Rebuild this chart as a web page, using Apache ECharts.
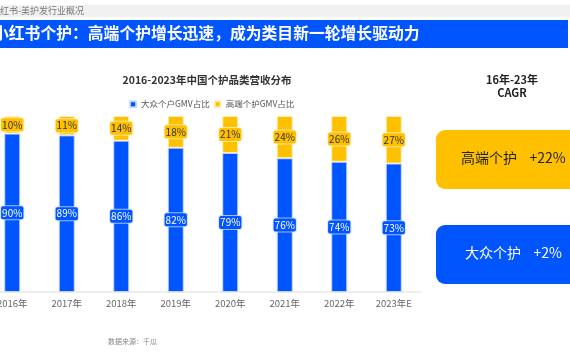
<!DOCTYPE html>
<html>
<head>
<meta charset="utf-8">
<style>
html,body{margin:0;padding:0;background:#fff;overflow:hidden;}
#wrap{width:570px;height:360px;overflow:hidden;position:relative;}
#chart{width:585px;height:360px;position:absolute;left:-15px;top:0;}
</style>
<script src="https://cdn.jsdelivr.net/npm/echarts@6/dist/echarts.min.js"></script>
</head>
<body>
<div id="wrap"><div id="chart"></div></div>
<script>
var categories = ['2016年','2017年','2018年','2019年','2020年','2021年','2022年','2023年E'];
var massShare = [90, 89, 86, 82, 79, 76, 74, 73];
var premiumShare = [10, 11, 14, 18, 21, 24, 26, 27];
var seriesNames = ['大众个户GMV占比', '高端个护GMV占比'];
var cagrLabels = ['高端个护    +22%', '大众个护    +2%'];

var BLUE = '#0055FF';
var YELLOW = '#FFC000';
var FONT = '"Noto Sans CJK SC", "Noto Sans", sans-serif';
var OX = 15; // horizontal offset of the canvas (it starts 15px left of the page)

var chart = echarts.init(document.getElementById('chart'), null, {renderer: 'canvas'});

function lbl(color, bg, border) {
  return {
    show: true,
    position: 'inside',
    formatter: '{c}%',
    color: color,
    fontSize: 10,
    fontFamily: FONT,
    backgroundColor: bg,
    borderColor: border,
    borderWidth: 1,
    borderRadius: 2,
    padding: [2, 1, 1, 1]
  };
}

var option = {
  animation: false,
  textStyle: {fontFamily: FONT},
  title: {
    text: '2016-2023年中国个护品类营收分布',
    left: 202 + OX,
    textAlign: 'center',
    top: 70,
    textStyle: {fontSize: 10.5, fontWeight: 'bold', color: '#333', fontFamily: FONT}
  },
  legend: {
    data: seriesNames,
    left: 124 + OX,
    top: 95,
    itemWidth: 6,
    itemHeight: 6,
    itemGap: 4,
    icon: 'rect',
    textStyle: {fontSize: 8.5, color: '#555', fontFamily: FONT}
  },
  grid: {left: 0, right: 149, top: 116, bottom: 68, containLabel: false},
  xAxis: {
    type: 'category',
    data: categories,
    axisLine: {show: true, lineStyle: {color: '#eeeeee', width: 2}},
    axisTick: {show: false},
    axisLabel: {color: '#666', fontSize: 9.5, fontFamily: FONT, margin: 7}
  },
  yAxis: {
    type: 'value',
    min: 0,
    max: 100,
    show: false,
    splitLine: {show: false}
  },
  series: [
    {
      name: seriesNames[0],
      type: 'bar',
      stack: 'total',
      barWidth: 16,
      data: massShare,
      itemStyle: {color: BLUE, borderColor: 'rgba(200,215,255,0.9)', borderWidth: 1},
      label: lbl('#ffffff', BLUE, 'rgba(200,215,255,0.8)')
    },
    {
      name: seriesNames[1],
      type: 'bar',
      stack: 'total',
      barWidth: 16,
      data: premiumShare,
      itemStyle: {color: YELLOW, borderColor: 'rgba(255,240,190,0.9)', borderWidth: 1},
      label: lbl('#333333', YELLOW, 'rgba(255,240,190,0.8)')
    }
  ],
  graphic: [
    {type: 'rect', shape: {x: OX, y: 5, width: 570, height: 12}, style: {fill: '#f1f1f1'}, silent: true},
    {type: 'text', x: OX - 9, y: 6, style: {text: '小红书-美护发行业概况', fill: '#777', font: '9px ' + FONT}},
    {type: 'rect', shape: {x: OX, y: 20, width: 568, height: 28}, style: {fill: BLUE}},
    {type: 'text', x: OX - 7, y: 25, style: {text: '小红书个护：高端个护增长迅速，成为类目新一轮增长驱动力', fill: '#fff', font: 'bold 15.8px ' + FONT}},
    {type: 'text', x: 512 + OX, y: 73, style: {text: '16年-23年\nCAGR', fill: '#222', align: 'center', lineHeight: 13, font: 'bold 11px ' + FONT}},
    {type: 'rect', shape: {x: 436 + OX, y: 130, width: 150, height: 59, r: 9}, style: {fill: YELLOW}},
    {type: 'text', x: 461 + OX, y: 151, style: {text: cagrLabels[0], fill: '#222', font: '14px ' + FONT}},
    {type: 'rect', shape: {x: 436 + OX, y: 225, width: 150, height: 59, r: 9}, style: {fill: BLUE}},
    {type: 'text', x: 465 + OX, y: 246, style: {text: cagrLabels[1], fill: '#fff', font: '14px ' + FONT}},
    {type: 'text', x: 108 + OX, y: 338, style: {text: '数据来源：千瓜', fill: '#888', font: '7px ' + FONT}}
  ]
};
chart.setOption(option);
</script>
</body>
</html>
